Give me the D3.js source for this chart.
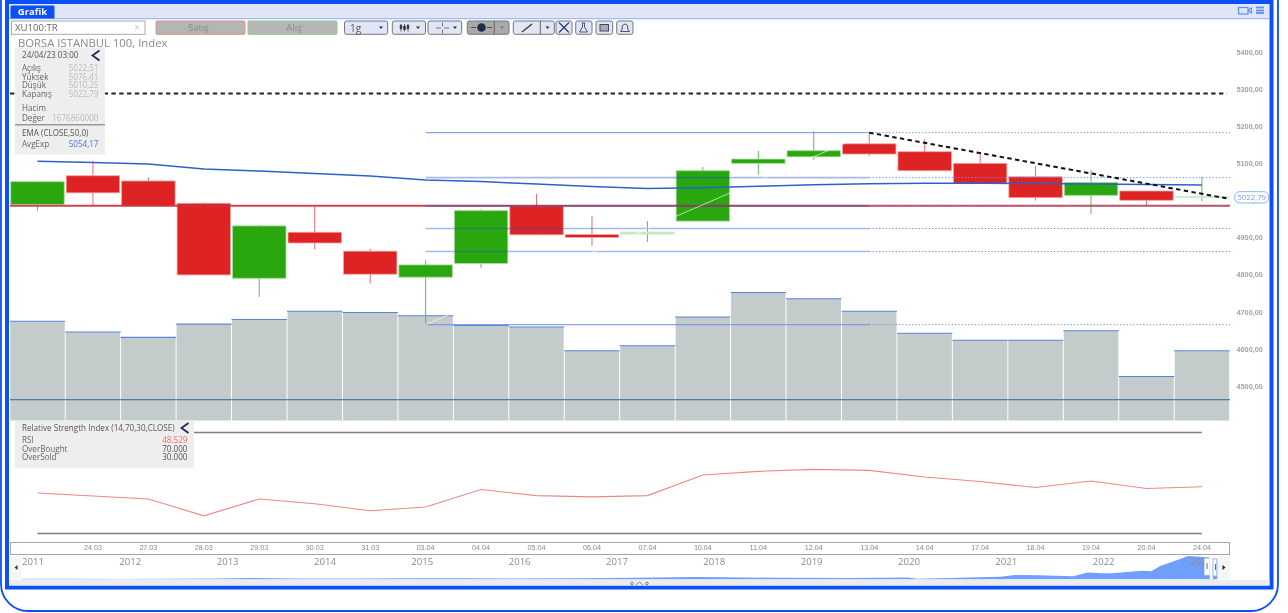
<!DOCTYPE html>
<html>
<head>
<meta charset="utf-8">
<script src="https://cdn.jsdelivr.net/npm/d3@7"></script>
<style>
    html, body { margin: 0; padding: 0; background: #fff; overflow: hidden; }
    svg { display: block; font-family: "Open Sans", sans-serif; filter: blur(0.4px); }
</style>
</head>
<body>
<div id="chart"></div>
<script>
// Daily candles, first session has no date label on the strip
const dates = ['23.03', '24.03', '27.03', '28.03', '29.03', '30.03', '31.03', '03.04', '04.04', '05.04', '06.04',
    '07.04', '10.04', '11.04', '12.04', '13.04', '14.04', '17.04', '18.04', '19.04', '20.04', '24.04'];
const opens = [4989, 5066, 5052, 4992, 4790, 4914, 4863, 4793, 4830, 4984.5, 4908,
    4909, 4944, 5099.5, 5117, 5152, 5130.7, 5099.5, 5063.4, 5013.3, 5025, 5008];
const closes = [5050, 5020, 4985, 4799, 4931, 4885, 4801, 4826, 4972, 4907, 4900,
    4914.5, 5079.5, 5111, 5133.4, 5124.5, 5079.5, 5045.6, 5007, 5048.3, 5000, 5010.6];
const highs = [5050, 5106, 5062, 4994, 4933, 4987, 4869, 4839, 4976, 5017, 4957.5,
    4944, 5090, 5132.6, 5186, 5184, 5164, 5126.4, 5092, 5081.4, 5025, 5063.4];
const lows = [4972, 4987, 4985, 4799, 4740, 4868, 4776, 4669, 4818, 4907, 4877,
    4888, 4944, 5069, 5109, 5119, 5079.5, 5045.6, 4999, 4963, 4984.5, 4998];
const emaValues = [5105, 5101.6, 5097.6, 5084, 5078.7, 5072, 5065.3, 5054.5, 5050.4, 5043.7, 5037,
    5032, 5033.5, 5037.5, 5041.6, 5044.5, 5046, 5045.6, 5045, 5043.7, 5042.4, 5041];
const volumes = [2.39, 2.13, 2.0, 2.32, 2.43, 2.63, 2.60, 2.52, 2.29, 2.25, 1.68,
    1.80, 2.49, 3.08, 2.93, 2.63, 2.10, 1.93, 1.93, 2.16, 1.06, 1.677];
const rsiValues = [46.04, 44.85, 43.66, 37.0, 43.66, 41.8, 39.0, 40.5, 47.4, 45.0, 44.5,
    45.0, 53.2, 54.6, 55.4, 55.0, 52.4, 50.6, 48.2, 50.8, 47.8, 48.529];

const priceTicks = [5400, 5300, 5200, 5100, 5000, 4900, 4800, 4700, 4600, 4500];
const fibLevels = [5182, 5061, 4985, 4924, 4862, 4665];
const supportLevel = 4985;
const resistanceLevel = 5287.4;
const trendEnd = 5005;
const volumeLine = 0.5;

const overviewYears = [2011, 2012, 2013, 2014, 2015, 2016, 2017, 2018, 2019, 2020, 2021, 2022, 2023];
const overviewX = [2011, 2011.5, 2012, 2012.5, 2013, 2013.35, 2013.8, 2014.5, 2015, 2015.5, 2016, 2016.7, 2017.3, 2017.9,
    2018.2, 2018.8, 2019.5, 2020.1, 2020.2, 2021.05, 2021.2, 2021.45, 2021.8, 2021.95, 2022.08, 2022.2, 2022.5, 2022.6,
    2022.7, 2022.87, 2022.98, 2023.18, 2023.28];
const overviewY = [110, 130, 90, 110, 200, 280, 170, 200, 220, 210, 200, 220, 320, 480,
    450, 320, 300, 390, 110, 540, 930, 870, 650, 1500, 1300, 1300, 1840, 1740,
    2970, 4190, 5050, 4770, 4340];

const infoRows = [['Açılış', '5022,51'], ['Yüksek', '5076,41'], ['Düşük', '5010,25'], ['Kapanış', '5022,79']];
const rsiRows = [['RSI', '48.529', '#ee6f6f'], ['OverBought', '70.000', '#555'], ['OverSold', '30.000', '#555']];

const BLUE = '#0a50f5';
const TOOLBAR_BG = '#e0e6f8';
const LEVEL_BLUE = '#6b90e6';
const GREEN = '#2aa70f';
const RED = '#dd2323';

const svg = d3.select('#chart').append('svg')
    .attr('width', 1288)
    .attr('height', 613);

// Scales
const x = d3.scaleBand().domain(dates).range([9.75, 1229.65]);
const cx = d => x(d) + x.bandwidth() / 2;
const y = d3.scaleLinear().domain([4500, 5400]).range([386, 51.7]);
const volY = d3.scaleLinear().domain([0, 3.08]).range([420.5, 292.5]);
const rsiY = d3.scaleLinear().domain([30, 70]).range([533.5, 432.5]);
const yearX = d3.scaleLinear().domain([2011, 2023]).range([22, 1190]);
const overY = d3.scaleLinear().domain([0, 5000]).range([579.3, 556.3]);

const lastDate = dates[dates.length - 1];
const fibStart = dates[7];
const fibEnd = dates[15];
const plotRight = 1230;

function drawFrame() {
    svg.append('rect').attr('x', 1).attr('y', -40).attr('width', 1277).attr('height', 651)
        .attr('rx', 27).attr('fill', '#fff').attr('stroke', BLUE).attr('stroke-width', 1.8);
    svg.append('rect').attr('x', 7).attr('y', 2).attr('width', 1264.5).attr('height', 585.5)
        .attr('fill', '#fff').attr('stroke', BLUE).attr('stroke-width', 4);
    svg.append('rect').attr('x', 9).attr('y', 580).attr('width', 1260.5).attr('height', 5.5).attr('fill', '#ececec');
    svg.append('rect').attr('x', 9).attr('y', 4).attr('width', 1260).attr('height', 15).attr('fill', TOOLBAR_BG);
    svg.append('line').attr('x1', 9).attr('x2', 1269).attr('y1', 18.7).attr('y2', 18.7)
        .attr('stroke', '#9dbcf2').attr('stroke-width', 1.3);

    // Tab
    svg.append('path').attr('d', 'M10.5,18.5V7q0,-1.5 1.5,-1.5H53q1.5,0 1.5,1.5V18.5Z').attr('fill', BLUE);
    svg.append('text').attr('x', 32.5).attr('y', 15.2).attr('text-anchor', 'middle')
        .attr('fill', '#fff').style('font-size', '9.5px').style('font-weight', '700').text('Grafik');

    // Icons, top right
    const ic = svg.append('g').attr('stroke', '#5b8ff0').attr('fill', 'none');
    ic.append('rect').attr('x', 1238.5).attr('y', 7.5).attr('width', 9.5).attr('height', 6.5).attr('stroke-width', 1.2);
    ic.append('path').attr('d', 'M1249,9.5l2.5,-1.5v5l-2.5,-1.5Z').attr('stroke-width', 1.2);
    [7.5, 10.5, 13].forEach(v => {
        ic.append('line').attr('x1', 1256).attr('x2', 1264).attr('y1', v).attr('y2', v).attr('stroke-width', 1.8);
    });
}

function toolButton(x0, x1, fill) {
    svg.append('rect').attr('x', x0).attr('y', 21).attr('width', x1 - x0).attr('height', 13.3).attr('rx', 2)
        .attr('fill', fill || TOOLBAR_BG).attr('stroke', '#777').attr('stroke-width', 1);
}

function caret(px, color) {
    svg.append('path').attr('d', `M${px - 2},26.5h4l-2,2.6Z`).attr('fill', color || '#333');
}

function drawToolbar() {
    svg.append('rect').attr('x', 11.5).attr('y', 21).attr('width', 133.5).attr('height', 13.3)
        .attr('fill', '#fff').attr('stroke', '#aaa');
    svg.append('text').attr('x', 15).attr('y', 31.3).attr('fill', '#666').style('font-size', '9.6px').text('XU100:TR');
    svg.append('text').attr('x', 137).attr('y', 31).attr('text-anchor', 'middle').attr('fill', '#c8c8c8')
        .style('font-size', '10px').text('×');

    svg.append('rect').attr('x', 156).attr('y', 21).attr('width', 89).attr('height', 13.3).attr('rx', 1)
        .attr('fill', '#b5b5b5').attr('stroke', '#e58f8f');
    svg.append('text').attr('x', 198.5).attr('y', 31.3).attr('text-anchor', 'middle').attr('fill', '#8a8a8a')
        .style('font-size', '9.5px').text('Satış');
    svg.append('rect').attr('x', 248).attr('y', 21).attr('width', 89).attr('height', 13.3).attr('rx', 1)
        .attr('fill', '#b5b5b5').attr('stroke', '#93c985');
    svg.append('text').attr('x', 294).attr('y', 31.3).attr('text-anchor', 'middle').attr('fill', '#8a8a8a')
        .style('font-size', '9.5px').text('Alış');

    toolButton(344.5, 387.7);
    svg.append('text').attr('x', 350).attr('y', 31.5).attr('fill', '#555').style('font-size', '10px').text('1g');
    caret(381);

    toolButton(392.3, 425.5);
    const candles = svg.append('g').attr('stroke', '#333').attr('stroke-width', 0.8);
    [401, 404.5, 408].forEach((v, i) => {
        candles.append('line').attr('x1', v).attr('x2', v).attr('y1', 24).attr('y2', 31.5);
        candles.append('rect').attr('x', v - 0.8).attr('y', 25.5 + i % 2).attr('width', 1.6).attr('height', 3).attr('fill', '#333');
    });
    caret(418);

    toolButton(428, 461.7);
    const cross = svg.append('g').attr('stroke', '#666').attr('stroke-width', 0.9);
    cross.append('path').attr('d', 'M436,28h5M444,28h5M442.5,22.5v4M442.5,29.5v4');
    caret(455);

    toolButton(467.3, 509, '#a9a9a9');
    svg.append('circle').attr('cx', 481.5).attr('cy', 27.5).attr('r', 4.3).attr('fill', '#1f2d4d');
    svg.append('path').attr('d', 'M471,27.5h5M487,27.5h5').attr('stroke', '#333').attr('stroke-width', 0.8);
    svg.append('line').attr('x1', 494.3).attr('x2', 494.3).attr('y1', 21).attr('y2', 34.3).attr('stroke', '#666');
    caret(502, '#777');

    toolButton(513.3, 554.3);
    svg.append('line').attr('x1', 522).attr('x2', 532).attr('y1', 32).attr('y2', 24).attr('stroke', '#333').attr('stroke-width', 1.2);
    svg.append('line').attr('x1', 540.3).attr('x2', 540.3).attr('y1', 21).attr('y2', 34.3).attr('stroke', '#666');
    caret(547.5);

    toolButton(556, 572);
    svg.append('path').attr('d', 'M559,22.5L569,32.5M569,22.5L559,32.5').attr('stroke', '#2a3a5a').attr('stroke-width', 1.2).attr('fill', 'none');
    toolButton(575.7, 592);
    svg.append('path').attr('d', 'M582,23h3M582.5,23v4l-3,5h8l-3,-5v-4').attr('stroke', '#556').attr('fill', 'none');
    toolButton(596, 612.7);
    svg.append('rect').attr('x', 600).attr('y', 24.5).attr('width', 8.5).attr('height', 6.5).attr('fill', '#aab').attr('stroke', '#445');
    toolButton(616.7, 633);
    svg.append('path').attr('d', 'M620.5,31.5h9l-1.8,-2.5v-3.5q-2.7,-3 -5.4,0v3.5Z').attr('stroke', '#556').attr('fill', 'none');
}

function drawVolume() {
    const g = svg.append('g');
    g.selectAll('.vol')
        .data(dates)
        .enter()
        .append('rect')
        .attr('class', 'vol')
        .attr('x', d => x(d) + 0.5)
        .attr('y', (d, i) => volY(volumes[i]))
        .attr('width', x.bandwidth() - 1)
        .attr('height', (d, i) => volY(0) - volY(volumes[i]))
        .attr('fill', '#c3cbcb');
    g.selectAll('.vol-top')
        .data(dates)
        .enter()
        .append('line')
        .attr('x1', d => x(d))
        .attr('x2', d => x(d) + x.bandwidth())
        .attr('y1', (d, i) => volY(volumes[i]))
        .attr('y2', (d, i) => volY(volumes[i]))
        .attr('stroke', '#5a84dc')
        .attr('stroke-width', 1.1);
    g.append('line')
        .attr('x1', 10).attr('x2', plotRight)
        .attr('y1', volY(volumeLine)).attr('y2', volY(volumeLine))
        .attr('stroke', '#3560b0').attr('stroke-width', 1);
}

function drawCandles() {
    const g = svg.append('g');
    const up = i => closes[i] >= opens[i];
    const pale = i => Math.abs(closes[i] - opens[i]) < 6;

    g.selectAll('.wick')
        .data(dates)
        .enter()
        .append('line')
        .attr('class', 'wick')
        .attr('x1', cx).attr('x2', cx)
        .attr('y1', (d, i) => y(highs[i]))
        .attr('y2', (d, i) => y(lows[i]))
        .attr('stroke', (d, i) => up(i) ? '#63b956' : '#ea6a6a')
        .attr('stroke-width', 1);

    g.selectAll('.body')
        .data(dates)
        .enter()
        .append('rect')
        .attr('class', 'body')
        .attr('x', d => x(d) + 1)
        .attr('width', x.bandwidth() - 2)
        .attr('y', (d, i) => y(Math.max(opens[i], closes[i])))
        .attr('height', (d, i) => Math.abs(y(opens[i]) - y(closes[i])))
        .attr('fill', (d, i) => pale(i) && up(i) ? '#c9e8c2' : (up(i) ? GREEN : RED))
        .attr('stroke', (d, i) => pale(i) && up(i) ? '#c9e8c2' : (up(i) ? '#a9dca0' : '#f0a5a5'))
        .attr('stroke-width', 0.8);
}

function drawLevels() {
    const g = svg.append('g');

    g.append('line')
        .attr('x1', 10).attr('x2', plotRight)
        .attr('y1', y(supportLevel)).attr('y2', y(supportLevel))
        .attr('stroke', '#c9303a').attr('stroke-opacity', 0.9).attr('stroke-width', 2);

    // Retracement levels: solid across the anchor range, dotted to the right edge
    const lastLevel = fibLevels.length - 1;
    fibLevels.forEach((level, i) => {
        const outer = i === 0 || i === lastLevel;
        g.append('line')
            .attr('x1', cx(fibStart)).attr('x2', cx(fibEnd))
            .attr('y1', y(level)).attr('y2', y(level))
            .attr('stroke', outer ? LEVEL_BLUE : '#2152c4')
            .attr('stroke-opacity', outer ? 1 : 0.4)
            .attr('stroke-width', outer ? 1 : 1.6);
        g.append('line')
            .attr('x1', cx(fibEnd)).attr('x2', plotRight)
            .attr('y1', y(level)).attr('y2', y(level))
            .attr('stroke', LEVEL_BLUE)
            .attr('stroke-dasharray', '1.3,2');
    });

    // Pale diagonal joining the two anchors
    g.append('line')
        .attr('x1', cx(fibStart)).attr('x2', cx(fibEnd))
        .attr('y1', y(fibLevels[lastLevel])).attr('y2', y(fibLevels[0]))
        .attr('stroke', '#fff').attr('stroke-opacity', 0.65).attr('stroke-width', 1);

    // EMA
    const emaLine = d3.line().x((d, i) => cx(dates[i])).y(d => y(d));
    g.append('path')
        .attr('d', emaLine(emaValues))
        .attr('fill', 'none')
        .attr('stroke', '#2b62c8')
        .attr('stroke-width', 1.5);

    // Hand-drawn dashed lines
    g.append('line')
        .attr('x1', 10).attr('x2', 1227)
        .attr('y1', y(resistanceLevel)).attr('y2', y(resistanceLevel))
        .attr('stroke', '#222').attr('stroke-width', 2).attr('stroke-dasharray', '4.4,3.4');
    g.append('line')
        .attr('x1', cx(fibEnd)).attr('x2', 1227)
        .attr('y1', y(fibLevels[0])).attr('y2', y(trendEnd))
        .attr('stroke', '#111').attr('stroke-width', 2).attr('stroke-dasharray', '4.4,3.4');
}

function drawPriceAxis() {
    const axis = d3.axisRight(y)
        .tickValues(priceTicks)
        .tickSize(0)
        .tickPadding(0)
        .tickFormat(d => d.toFixed(2).replace('.', ','));
    const g = svg.append('g').attr('transform', 'translate(1236.5,0)').call(axis);
    g.select('.domain').remove();
    g.selectAll('text')
        .style('font-family', '"Liberation Sans", sans-serif')
        .style('font-size', '7.3px')
        .style('font-weight', '700')
        .style('fill', '#a3a3a3');

    svg.append('rect').attr('x', 1234.7).attr('y', 191.7).attr('width', 34).attr('height', 11.3).attr('rx', 5)
        .attr('fill', '#fff').attr('stroke', '#8fb0ee').attr('stroke-width', 1);
    svg.append('text').attr('x', 1251.7).attr('y', 200.2).attr('text-anchor', 'middle').attr('fill', '#7d9be0')
        .style('font-size', '7.8px').text('5022,79');
}

function drawRsi() {
    const g = svg.append('g');
    [70, 30].forEach(level => {
        g.append('line')
            .attr('x1', cx(dates[0])).attr('x2', cx(lastDate))
            .attr('y1', rsiY(level)).attr('y2', rsiY(level))
            .attr('stroke', '#808080').attr('stroke-width', 1.5);
    });
    const rsiLine = d3.line().x((d, i) => cx(dates[i])).y(d => rsiY(d));
    g.append('path')
        .attr('d', rsiLine(rsiValues))
        .attr('fill', 'none')
        .attr('stroke', '#f08686')
        .attr('stroke-width', 1.1);
}

function chevron(px, py) {
    svg.append('path').attr('d', `M${px + 3.5},${py - 5}L${px - 3.5},${py}L${px + 3.5},${py + 5}`)
        .attr('fill', 'none').attr('stroke', '#1f2d4d').attr('stroke-width', 1.8);
}

function drawPanels() {
    svg.append('text').attr('x', 18).attr('y', 47).attr('fill', '#8a8a8a')
        .style('font-size', '11.3px').text('BORSA ISTANBUL 100, Index');

    // Quote panel
    svg.append('rect').attr('x', 15).attr('y', 47.5).attr('width', 90).attr('height', 107).attr('fill', '#eee');
    const label = (tx, ty, str, color) => svg.append('text').attr('x', tx).attr('y', ty)
        .attr('fill', color || '#666').style('font-size', '8.1px').text(str);
    const value = (ty, str, color) => svg.append('text').attr('x', 98.5).attr('y', ty).attr('text-anchor', 'end')
        .attr('fill', color || '#bbb').style('font-size', '8.1px').text(str);

    label(22, 58, '24/04/23 03:00', '#555');
    chevron(96, 55.5);
    infoRows.forEach((row, i) => {
        const rowY = 71 + i * 8.6;
        label(22, rowY, row[0]);
        value(rowY, row[1]);
    });
    label(22, 111, 'Hacim');
    label(22, 120.5, 'Değer');
    value(120.5, '1676860000');
    svg.append('line').attr('x1', 15).attr('x2', 105).attr('y1', 124.8).attr('y2', 124.8)
        .attr('stroke', '#999').attr('stroke-width', 1.4);
    label(22, 136, 'EMA (CLOSE,50,0)', '#555');
    label(22, 147.3, 'AvgExp');
    value(147.3, '5054,17', '#4a78d8');

    // RSI panel
    svg.append('rect').attr('x', 15).attr('y', 420.7).attr('width', 179).attr('height', 47).attr('fill', '#eee');
    label(22, 430.5, 'Relative Strength Index (14,70,30,CLOSE)', '#555');
    chevron(185, 428);
    rsiRows.forEach((row, i) => {
        const rowY = 443.3 + i * 8.5;
        label(22, rowY, row[0]);
        svg.append('text').attr('x', 187.5).attr('y', rowY).attr('text-anchor', 'end')
            .attr('fill', row[2]).style('font-size', '8.1px').text(row[1]);
    });
}

function drawTimeAxis() {
    svg.append('rect').attr('x', 10.5).attr('y', 542.5).attr('width', 1219).attr('height', 12)
        .attr('fill', '#fff').attr('stroke', '#a5a5a5').attr('stroke-width', 1);

    const axis = d3.axisBottom(x)
        .tickSize(0)
        .tickPadding(0)
        .tickFormat((d, i) => i === 0 ? '' : d);
    const g = svg.append('g').attr('transform', 'translate(0,544.5)').call(axis);
    g.select('.domain').remove();
    g.selectAll('text')
        .style('font-family', '"Liberation Sans", sans-serif')
        .style('font-size', '7.2px')
        .style('fill', '#888');

    // Navigator
    const area = d3.area()
        .x((d, i) => yearX(overviewX[i]))
        .y0(overY(0))
        .y1(d => overY(d));
    svg.append('path').attr('d', area(overviewY)).attr('fill', '#6f9ffa');

    svg.selectAll('.year')
        .data(overviewYears)
        .enter()
        .append('text')
        .attr('class', 'year')
        .attr('x', d => yearX(d))
        .attr('y', 564.5)
        .attr('fill', '#8a8a8a')
        .style('font-size', '9.6px')
        .text(d => d);

    // Scroll arrows and range handles
    svg.append('rect').attr('x', 10).attr('y', 556).attr('width', 11).attr('height', 23).attr('fill', '#f6f6f6');
    svg.append('path').attr('d', 'M14.5,567.5l3,-2.5v5Z').attr('fill', '#333');
    svg.append('rect').attr('x', 1218).attr('y', 556).attr('width', 12).attr('height', 23).attr('fill', '#f6f6f6');
    svg.append('path').attr('d', 'M1225.5,567.5l-3,-2.5v5Z').attr('fill', '#222');
    svg.append('rect').attr('x', 1209.8).attr('y', 558).attr('width', 3).attr('height', 21).attr('fill', '#fff');
    svg.append('rect').attr('x', 1204.5).attr('y', 558.5).attr('width', 5.3).attr('height', 16.5)
        .attr('fill', '#fff').attr('stroke', '#ddd').attr('stroke-width', 0.6);
    svg.append('rect').attr('x', 1213).attr('y', 559).attr('width', 3.8).attr('height', 17)
        .attr('fill', '#fff').attr('stroke', '#8fb4f5').attr('stroke-width', 0.8);
    svg.append('path').attr('d', 'M1207,563v6M1215.5,564v6').attr('stroke', '#444').attr('stroke-width', 0.8);

    // Collapse control
    svg.append('path').attr('d', 'M636,585l3.5,-3l3.5,3').attr('fill', 'none').attr('stroke', '#666').attr('stroke-width', 0.7);
    [632, 647].forEach(v => {
        svg.append('circle').attr('cx', v).attr('cy', 583.5).attr('r', 1.3).attr('fill', 'none').attr('stroke', '#555').attr('stroke-width', 0.7);
    });
}

drawFrame();
drawToolbar();
drawVolume();
drawCandles();
drawLevels();
drawPriceAxis();
drawRsi();
drawPanels();
drawTimeAxis();
</script>
</body>
</html>
